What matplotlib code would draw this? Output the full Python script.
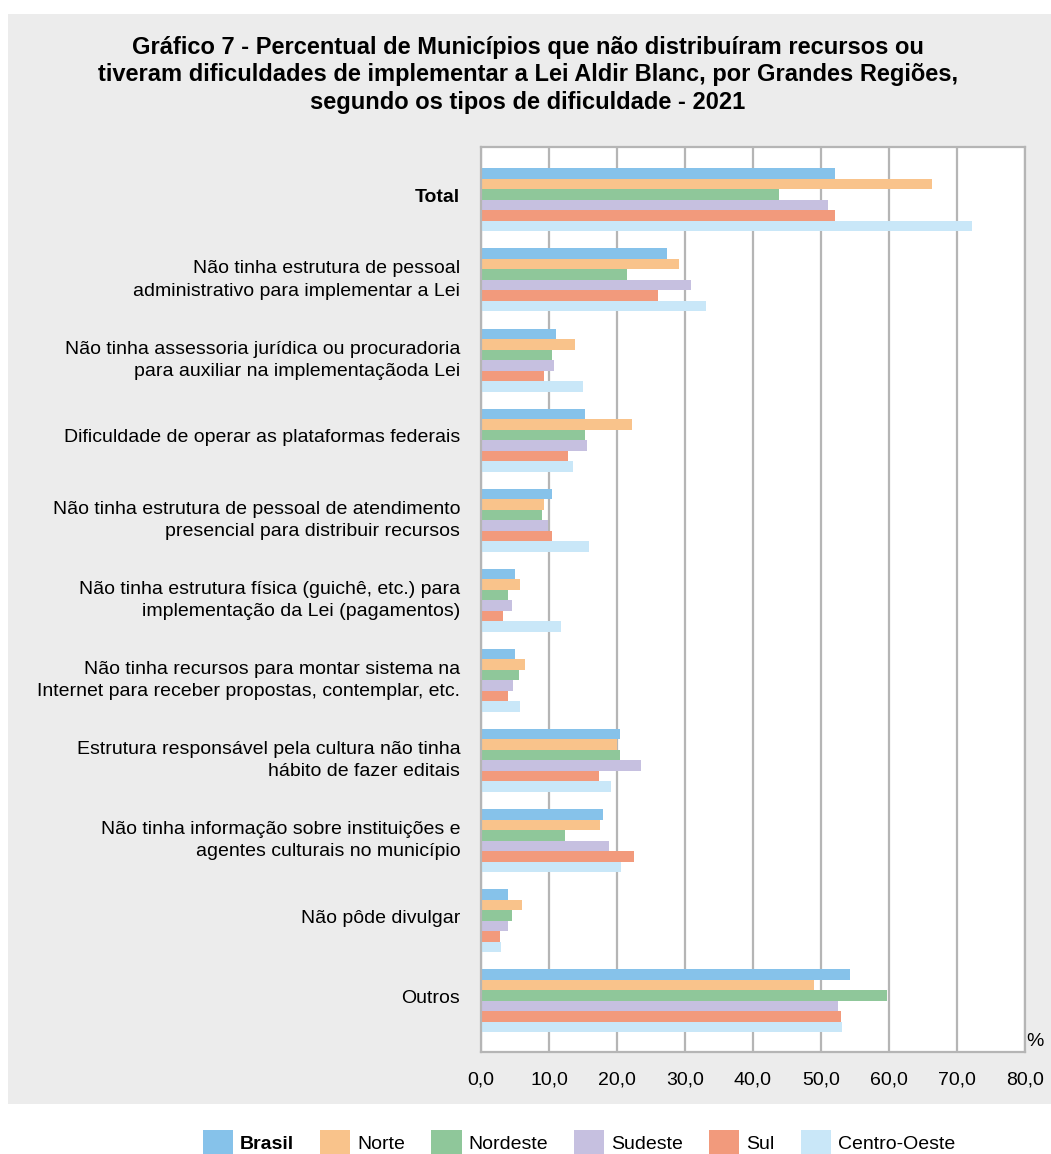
import matplotlib.pyplot as plt
from matplotlib.patches import Patch, Rectangle
import matplotlib.transforms as mtransforms
import numpy as np

plt.rcParams['font.family'] = ['Liberation Sans', 'DejaVu Sans']

# categorias (de cima para baixo)
categorias = [
    "Total",
    "Não tinha estrutura de pessoal\nadministrativo para implementar a Lei",
    "Não tinha assessoria jurídica ou procuradoria\npara auxiliar na implementaçãoda Lei",
    "Dificuldade de operar as plataformas federais",
    "Não tinha estrutura de pessoal de atendimento\npresencial para distribuir recursos",
    "Não tinha estrutura física (guichê, etc.) para\nimplementação da Lei (pagamentos)",
    "Não tinha recursos para montar sistema na\nInternet para receber propostas, contemplar, etc.",
    "Estrutura responsável pela cultura não tinha\nhábito de fazer editais",
    "Não tinha informação sobre instituições e\nagentes culturais no município",
    "Não pôde divulgar",
    "Outros",
]

regioes = ["Brasil", "Norte", "Nordeste", "Sudeste", "Sul", "Centro-Oeste"]
cores = ["#86c2ea", "#f9c38b", "#8fc79a", "#c6c0e0", "#f29a7c", "#c9e7f8"]

brasil       = [52.0, 27.3, 11.1, 15.3, 10.4, 5.0, 5.0, 20.5, 17.9, 4.0, 54.3]
norte        = [66.3, 29.1, 13.8, 22.2,  9.2, 5.8, 6.5, 20.0, 17.5, 6.1, 49.0]
nordeste     = [43.8, 21.5, 10.4, 15.3,  8.9, 3.9, 5.6, 20.5, 12.3, 4.6, 59.7]
sudeste      = [51.1, 30.9, 10.7, 15.6,  9.9, 4.6, 4.7, 23.6, 18.8, 4.0, 52.5]
sul          = [52.0, 26.1,  9.2, 12.8, 10.4, 3.3, 3.9, 17.4, 22.5, 2.8, 53.0]
centro_oeste = [72.2, 33.1, 15.0, 13.5, 15.9, 11.7, 5.8, 19.1, 20.6, 3.0, 53.1]

series = [brasil, norte, nordeste, sudeste, sul, centro_oeste]

W, H = 1051, 1154
fig = plt.figure(figsize=(W / 100, H / 100), dpi=100)
fig.patch.set_facecolor('white')

# fundo cinza do quadro
bg = fig.add_axes([0, 0, 1, 1], zorder=0)
bg.axis('off')
bg.add_patch(Rectangle((8 / W, 1 - 1104 / H), (W - 8) / W, (1104 - 14) / H,
                       transform=bg.transAxes, facecolor='#ececec', edgecolor='none'))

ax = fig.add_axes([481 / W, 1 - 1052 / H, (1025 - 481) / W, (1052 - 147) / H], zorder=2)
ax.set_facecolor('white')

y = np.arange(len(categorias))
h = 0.131
for i, (vals, cor) in enumerate(zip(series, cores)):
    ax.barh(y - 2.5 * h + i * h, vals, height=h, color=cor, zorder=2)

ax.set_xlim(0, 80)
ax.set_ylim(10.64, -0.66)
ax.set_xticks(np.arange(0, 81, 10))
ax.set_xticklabels([f"{v:.1f}".replace('.', ',') for v in np.arange(0, 81, 10)], fontsize=14)
ax.grid(axis='x', color='#b5b5b5', linewidth=1.6, zorder=1)
ax.tick_params(axis='x', length=0, pad=14)
ax.tick_params(axis='y', length=0, pad=15)
ax.set_yticks(y)
ax.set_yticklabels(categorias, fontsize=14, linespacing=1.4)
ax.get_yticklabels()[0].set_fontweight('bold')
# rótulos levemente acima do centro do grupo
desloc = mtransforms.ScaledTranslation(0, 4.5 / 100, fig.dpi_scale_trans)
for lbl in ax.get_yticklabels():
    lbl.set_transform(lbl.get_transform() + desloc)
for s in ax.spines.values():
    s.set_color('#b5b5b5')
    s.set_linewidth(1.6)

fig.text(1035 / W, 1 - 1041 / H, "%", fontsize=14, ha='center', va='center', zorder=3)

fig.text(528 / W, 1 - 75 / H,
         "Gráfico 7 - Percentual de Municípios que não distribuíram recursos ou\n"
         "tiveram dificuldades de implementar a Lei Aldir Blanc, por Grandes Regiões,\n"
         "segundo os tipos de dificuldade - 2021",
         fontsize=17, fontweight='bold', ha='center', va='center', linespacing=1.27,
         zorder=3)

handles = [Patch(facecolor=c, edgecolor='none') for c in cores]
leg = fig.legend(handles, regioes, loc='center', ncol=6, frameon=False,
                 bbox_to_anchor=(579 / W, 1 - 1143 / H), fontsize=14,
                 handlelength=1.55, handleheight=1.75, handletextpad=0.35,
                 columnspacing=1.35)
leg.get_texts()[0].set_fontweight('bold')
leg.set_zorder(3)

fig.savefig('out.png', dpi=100)
